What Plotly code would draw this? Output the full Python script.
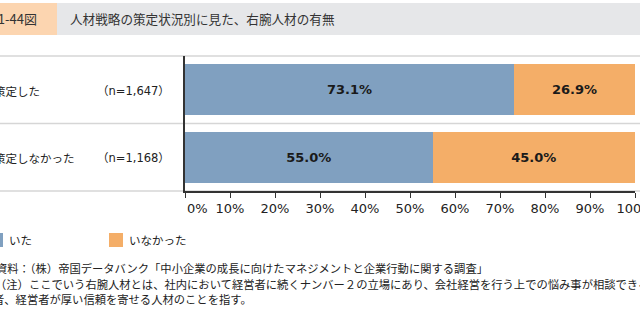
import plotly.graph_objects as go

# ---- data ----
categories = ["策定した", "策定しなかった"]
n_labels = ["（n=1,647）", "（n=1,168）"]
series_names = ["いた", "いなかった"]
had = [73.1, 55.0]
had_not = [26.9, 45.0]
tick_vals = [0, 10, 20, 30, 40, 50, 60, 70, 80, 90, 100]
tick_labels = ["0%", "10%", "20%", "30%", "40%", "50%", "60%", "70%", "80%", "90%", "100%"]

title_text = "人材戦略の策定状況別に見た、右腕人材の有無"
fig_no = "第2-1-44図"
notes = [
    "資料：（株）帝国データバンク「中小企業の成長に向けたマネジメントと企業行動に関する調査」",
    "（注）ここでいう右腕人材とは、社内において経営者に続くナンバー２の立場にあり、会社経営を行う上での悩み事が相談できる",
    "者、経営者が厚い信頼を寄せる人材のことを指す。",
]

BLUE = "#80A0C0"
ORANGE = "#F4AE68"
W, H = 640, 312
L, R, T, B = 185, 5, 56, 121
PW = W - L - R
PH = H - T - B


def px(x):
    return (x - L) / PW


def py(y):
    return (H - B - y) / PH


CJK = "Noto Sans CJK JP"
LAT = "DejaVu Sans, Noto Sans CJK JP"

fig = go.Figure()
colors = [BLUE, ORANGE]
for name, vals, col in zip(series_names, [had, had_not], colors):
    fig.add_trace(go.Bar(
        y=categories, x=vals, name=name, orientation="h",
        marker=dict(color=col, line=dict(width=0)),
        texttemplate="<b>%{x:.1f}%</b>", textposition="inside",
        insidetextanchor="middle", constraintext="none",
        textfont=dict(family=LAT, size=13, color="#1a1a1a"),
        showlegend=False, hoverinfo="skip",
    ))

shapes = []
# header band
shapes.append(dict(type="rect", xref="paper", yref="paper", x0=px(0), x1=px(57), y0=py(35), y1=py(3),
                   fillcolor="#FCD5B0", line=dict(width=0), layer="below"))
shapes.append(dict(type="rect", xref="paper", yref="paper", x0=px(57), x1=px(641), y0=py(35), y1=py(3),
                   fillcolor="#E6E7E9", line=dict(width=0), layer="below"))
# row separators
for yy in [1, 0.5, 0]:
    shapes.append(dict(type="line", xref="paper", yref="paper", x0=px(0), x1=px(641), y0=yy, y1=yy,
                       line=dict(color="#D6D6D6", width=1.5), layer="below"))

annotations = []
annotations.append(dict(text=fig_no, x=px(39), y=py(19), xref="paper", yref="paper", xanchor="right",
                        yanchor="middle", showarrow=False, font=dict(family=CJK, size=13, color="#333333")))
annotations.append(dict(text=title_text, x=px(68), y=py(19), xref="paper", yref="paper", xanchor="left",
                        yanchor="middle", showarrow=False, font=dict(family=CJK, size=12.6, color="#333333")))
row_y = [91, 158]
for cat, nl, yy in zip(categories, n_labels, row_y):
    annotations.append(dict(text=cat, x=px(-8), y=py(yy), xref="paper", yref="paper", xanchor="left",
                            yanchor="middle", showarrow=False, font=dict(family=CJK, size=11.5, color="#222222")))
    annotations.append(dict(text=nl, x=px(133), y=py(yy), xref="paper", yref="paper", xanchor="center",
                            yanchor="middle", showarrow=False, font=dict(family=LAT, size=11.5, color="#222222")))

# legend (manual)
leg = [(px(-11), px(3), px(7)), (px(109), px(123), px(127))]
for (x0, x1, xt), name, col in zip(leg, series_names, colors):
    shapes.append(dict(type="rect", xref="paper", yref="paper", x0=x0, x1=x1, y0=py(247), y1=py(233),
                       fillcolor=col, line=dict(width=0)))
    annotations.append(dict(text=name, x=xt, y=py(240), xref="paper", yref="paper", xanchor="left",
                            yanchor="middle", showarrow=False, font=dict(family=CJK, size=11.5, color="#222222")))

note_y = [268, 284, 299]
note_x = [-6, -7, -9]
for t, yy, xx in zip(notes, note_y, note_x):
    annotations.append(dict(text=t, x=px(xx), y=py(yy), xref="paper", yref="paper", xanchor="left",
                            yanchor="middle", showarrow=False, font=dict(family=CJK, size=11.3, color="#222222")))

ticktext = list(tick_labels)
ticktext[0] = "\u00a0" * 6 + ticktext[0]

fig.update_layout(
    width=W, height=H, barmode="stack", bargap=0.25,
    margin=dict(l=L, r=R, t=T, b=B, pad=0, autoexpand=False),
    paper_bgcolor="white", plot_bgcolor="white",
    shapes=shapes, annotations=annotations,
    xaxis=dict(range=[0, 100], tickvals=tick_vals, ticktext=ticktext, showgrid=False, zeroline=False,
               showline=True, linecolor="#333333", linewidth=1.5, ticks="outside", ticklen=5,
               tickcolor="#333333", tickwidth=1.2, ticklabeloverflow="allow", automargin=False,
               tickfont=dict(family=LAT, size=13, color="#222222"), fixedrange=True),
    yaxis=dict(categoryorder="array", categoryarray=categories[::-1], range=[-0.5, 1.5],
               showticklabels=False, showgrid=False, zeroline=False, showline=True, automargin=False,
               linecolor="#333333", linewidth=2, ticks="", fixedrange=True),
    showlegend=False,
)

fig.write_html("out.html")
